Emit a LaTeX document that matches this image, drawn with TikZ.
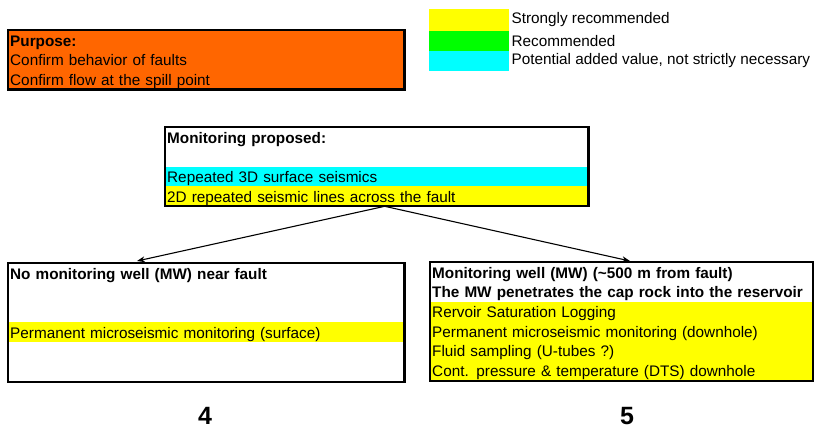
\documentclass[tikz,border=0pt]{standalone}
\usepackage{fontspec}
\setmainfont{Liberation Sans}
\usetikzlibrary{positioning,arrows.meta}
\definecolor{strongcol}{HTML}{FFFF00}
\definecolor{recomcol}{HTML}{00FF00}
\definecolor{addedcol}{HTML}{00FFFF}
\definecolor{purposecol}{HTML}{FF6600}
\newcommand{\cellfont}{\fontsize{15.3}{18}\selectfont}
\tikzset{
  row/.style={anchor=north west, inner xsep=2pt, inner ysep=0pt, text width=#1,
    minimum height=19.8pt, text height=11.8pt, text depth=0pt, align=left},
  head/.style={font=\cellfont\bfseries},
  frame/.style={draw=black, line width=2.2pt},
  swatch/.style={anchor=north west, minimum width=80pt, minimum height=#1, inner sep=0pt},
  legtext/.style={inner xsep=2pt, inner ysep=0pt},
  casenum/.style={font=\bfseries\fontsize{25}{25}\selectfont},
  link/.style={line width=1.1pt, -{Stealth[length=8pt,width=6pt]}}
}
\begin{document}
\begin{tikzpicture}[x=1pt, y=-1pt, font=\cellfont]
  \useasboundingbox (0,0) rectangle (814,437);
  % purpose
  \node[row=392pt, fill=purposecol, head] (purp1) at (8,30) {Purpose:};
  \node[row=392pt, fill=purposecol, below=-0.5pt of purp1] (purp2) {Confirm behavior of faults};
  \node[row=392pt, fill=purposecol, below=-0.5pt of purp2] (purp3) {Confirm flow at the spill point};
  \draw[frame, line width=2.8pt] (purp1.north west) rectangle (purp3.south east);
  % legend
  \node[swatch=21.5pt, fill=strongcol] (sw1) at (429,9) {};
  \node[swatch=20pt, fill=recomcol, below=-0.5pt of sw1] (sw2) {};
  \node[swatch=20pt, fill=addedcol, below=-0.5pt of sw2] (sw3) {};
  \node[legtext, right=0pt of sw1] (leg1) {Strongly recommended};
  \node[legtext, right=0pt of sw2] (leg2) {Recommended};
  \node[legtext, right=0pt of sw3] (leg3) {Potential added value, not strictly necessary};
  % monitoring proposed
  \node[row=419pt, head] (prop1) at (165,127) {Monitoring proposed:};
  \node[row=419pt, below=-0.5pt of prop1] (prop2) {};
  \node[row=419pt, fill=addedcol, below=-0.5pt of prop2] (prop3) {Repeated 3D surface seismics};
  \node[row=419pt, fill=strongcol, below=-0.5pt of prop3] (prop4) {2D repeated seismic lines across the fault};
  \draw[frame] (prop1.north west) rectangle (prop4.south east);
  % case 4: no monitoring well
  \node[row=392pt, head] (nomw1) at (8,263) {No monitoring well (MW) near fault};
  \node[row=392pt, below=-0.5pt of nomw1] (nomw2) {};
  \node[row=392pt, below=-0.5pt of nomw2] (nomw3) {};
  \node[row=392pt, fill=strongcol, below=-0.5pt of nomw3] (nomw4) {Permanent microseismic monitoring (surface)};
  \node[row=392pt, below=-0.5pt of nomw4] (nomw5) {};
  \node[row=392pt, below=-0.5pt of nomw5] (nomw6) {};
  \draw[frame] (nomw1.north west) rectangle (nomw6.south east);
  % case 5: monitoring well
  \node[row=379pt, head] (mw1) at (430,262) {Monitoring well (MW) (\textasciitilde500 m from fault)};
  \node[row=379pt, head, below=-0.5pt of mw1] (mw2) {The MW penetrates the cap rock into the reservoir};
  \node[row=379pt, fill=strongcol, below=-0.5pt of mw2] (mw3) {Rervoir Saturation Logging};
  \node[row=379pt, fill=strongcol, below=-0.5pt of mw3] (mw4) {Permanent microseismic monitoring (downhole)};
  \node[row=379pt, fill=strongcol, below=-0.5pt of mw4] (mw5) {Fluid sampling (U-tubes ?)};
  \node[row=379pt, fill=strongcol, below=-0.5pt of mw5] (mw6) {Cont. pressure \& temperature (DTS) downhole};
  \draw[frame] (mw1.north west) rectangle (mw6.south east);
  % connectors
  \coordinate (tipL) at (137,261);
  \coordinate (tipR) at (630,261);
  \draw[link] ([xshift=8pt]prop4.south) -- (tipL);
  \draw[link] ([xshift=8pt]prop4.south) -- (tipR);
  % case numbers
  \node[casenum] (num4) at (205,416) {4};
  \node[casenum] (num5) at (627,416) {5};
\end{tikzpicture}
\end{document}
